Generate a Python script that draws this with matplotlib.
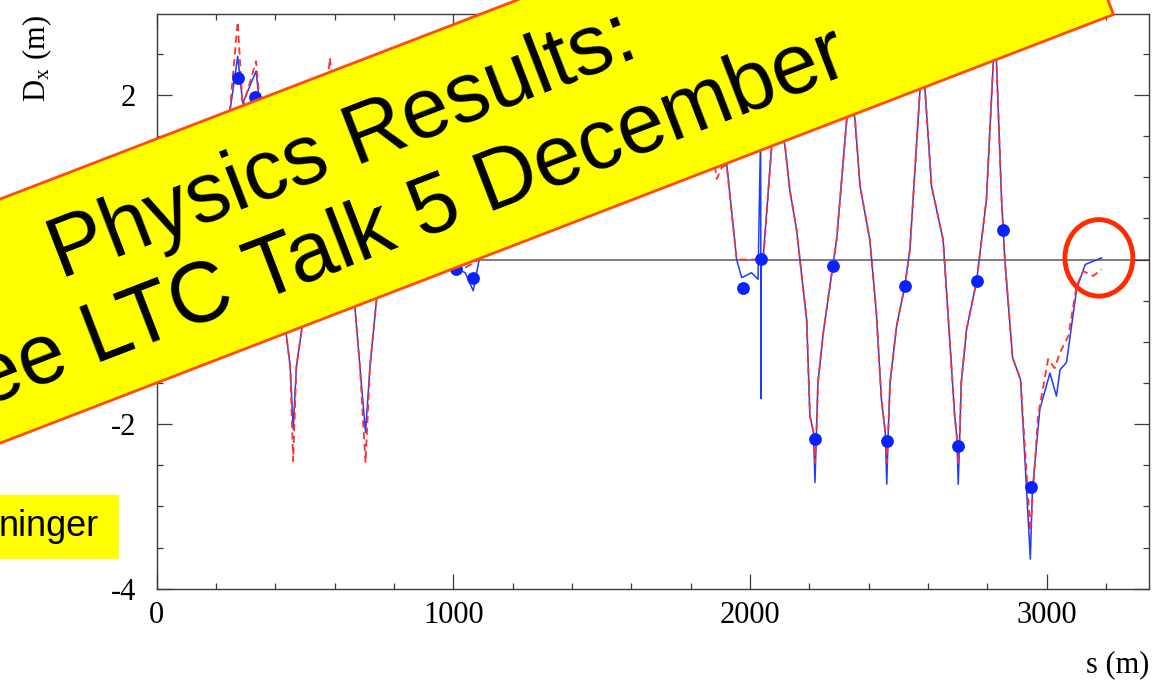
import numpy as np
import matplotlib
matplotlib.use("Agg")
import matplotlib.pyplot as plt
from matplotlib.patches import Polygon, Rectangle, Ellipse
from matplotlib.ticker import MultipleLocator, FixedLocator

plt.rcParams["mathtext.fontset"] = "stix"

W, H = 1157, 692

# measured dispersion (blue, solid)
meas_s = [0, 150, 245, 273, 290, 335, 355, 400, 432, 450, 460, 471, 489, 530, 584,
          630, 668, 685, 704, 719, 741, 790, 830, 900, 960, 990, 1009, 1040, 1067,
          1087, 1100, 1200, 1350, 1500, 1650, 1800, 1870, 1921, 1955, 1972, 2005,
          2027, 2036, 2037, 2038, 2045, 2073, 2094, 2118, 2134, 2157, 2191, 2202,
          2214, 2219, 2224, 2229, 2247, 2279, 2292, 2326, 2340, 2354, 2371, 2404,
          2426, 2443, 2456, 2461, 2466, 2472, 2494, 2522, 2539, 2573, 2585, 2590,
          2612, 2651, 2668, 2690, 2697, 2702, 2707, 2712, 2730, 2764, 2797, 2820,
          2826, 2831, 2848, 2859, 2885, 2912, 2945, 2952, 2977, 3011, 3033, 3045,
          3067, 3101, 3130, 3185]
meas_dx = [0.0, 0.3, 1.75, 2.47, 1.90, 2.29, 1.60, 0.60, -0.77, -1.30, -2.06, -1.30,
           -0.85, 0.50, 2.15, 0.60, -0.57, -1.30, -2.10, -1.30, -0.49, 1.20, 2.20,
           1.00, 0.20, 0.00, -0.11, -0.16, -0.38, 0.00, 0.50, 1.20, 1.60, 1.50, 1.70,
           1.60, 1.45, 1.18, 0.00, -0.22, -0.16, -0.24, 1.60, -1.69, 0.00, 0.05, 1.38,
           1.70, 1.38, 0.85, 0.36, -0.73, -1.90, -2.10, -2.71, -2.10, -1.50, -0.89,
           -0.08, 0.24, 1.70, 2.00, 1.70, 0.89, 0.24, -0.65, -1.70, -2.10, -2.73,
           -2.10, -1.50, -0.81, -0.32, 0.12, 2.06, 2.30, 2.06, 0.89, 0.24, -0.69,
           -1.90, -2.15, -2.73, -2.15, -1.50, -0.85, -0.26, 0.73, 2.39, 2.60, 2.39,
           0.73, 0.00, -1.19, -1.46, -3.64, -2.80, -1.82, -1.38, -1.66, -1.34, -1.25,
           -0.36, -0.06, 0.02]

# model dispersion (red, dashed)
model_s = [0, 150, 245, 273, 290, 335, 355, 400, 432, 450, 460, 471, 489, 530, 584,
           630, 668, 685, 704, 719, 741, 790, 830, 900, 960, 990, 1040, 1087, 1100,
           1200, 1350, 1500, 1650, 1800, 1870, 1888, 1905, 1921, 1955, 2045, 2073,
           2094, 2118, 2134, 2157, 2191, 2202, 2214, 2219, 2224, 2229, 2247, 2279,
           2292, 2326, 2340, 2354, 2371, 2404, 2426, 2443, 2456, 2461, 2466, 2472,
           2494, 2522, 2539, 2573, 2585, 2590, 2612, 2651, 2668, 2690, 2697, 2702,
           2707, 2712, 2730, 2764, 2797, 2820, 2826, 2831, 2848, 2859, 2885, 2912,
           2945, 2971, 3005, 3027, 3045, 3073, 3101, 3123, 3157, 3185]
model_dx = [0.0, 0.3, 1.75, 2.89, 1.85, 2.41, 1.60, 0.60, -0.77, -1.30, -2.45, -1.30,
            -0.85, 0.50, 2.45, 0.60, -0.57, -1.30, -2.47, -1.30, -0.49, 1.20, 2.20,
            1.00, 0.20, 0.00, -0.10, 0.00, 0.50, 1.20, 1.60, 1.50, 1.70, 1.60, 1.40,
            0.98, 1.12, 1.15, 0.00, 0.00, 1.38, 1.75, 1.38, 0.85, 0.36, -0.73, -1.90,
            -2.10, -2.47, -2.10, -1.50, -0.89, -0.08, 0.24, 1.70, 2.00, 1.70, 0.89,
            0.24, -0.65, -1.70, -2.10, -2.47, -2.10, -1.50, -0.81, -0.32, 0.12, 2.06,
            2.30, 2.06, 0.89, 0.24, -0.69, -1.90, -2.15, -2.47, -2.15, -1.50, -0.85,
            -0.26, 0.73, 2.39, 2.60, 2.39, 0.73, 0.00, -1.19, -1.46, -3.30, -1.90,
            -1.21, -1.32, -1.13, -0.93, -0.32, -0.14, -0.20, -0.12]

# BPM readings (blue dots)
bpm_s = [273, 331, 1009, 1067, 1977, 2037, 2219, 2279, 2461, 2522, 2702, 2764, 2853, 2947]
bpm_dx = [2.20, 1.98, -0.11, -0.22, -0.34, 0.01, -2.18, -0.08, -2.21, -0.32, -2.26,
          -0.26, 0.36, -2.77]

x_ticks = [0, 1000, 2000, 3000]
y_ticks = [-4, -2, 0, 2]
y_ticklabels = ["-4", "-2", "0", "2"]

fig = plt.figure(figsize=(W / 100, H / 100), dpi=100)
ax = fig.add_axes([156.7 / W, 1 - 588.7 / H, 992.6 / W, 574.4 / H])

ax.axhline(0, color="#5a5a5a", lw=1.1, zorder=1)
ax.plot(model_s, model_dx, color="#ff3030", lw=1.3, ls=(0, (4, 2.5)), zorder=3)
ax.plot(meas_s, meas_dx, color="#1a3cff", lw=1.1, zorder=2)
ax.plot(bpm_s, bpm_dx, "o", color="#0a22ff", ms=9.2, mec="none", zorder=4)

ax.set_xlim(0, 3346)
ax.set_ylim(-4, 2.98)
ax.xaxis.set_major_locator(FixedLocator(x_ticks))
ax.xaxis.set_minor_locator(MultipleLocator(200))
ax.yaxis.set_major_locator(FixedLocator(y_ticks))
ax.yaxis.set_minor_locator(MultipleLocator(0.5))
ax.set_yticklabels(y_ticklabels)

for sp in ax.spines.values():
    sp.set_color("#3a3a3a")
    sp.set_linewidth(1.0)
ax.tick_params(which="both", direction="in", top=True, right=True, color="#3a3a3a",
               width=0.9, labelsize=22)
ax.tick_params(which="major", length=10.8)
ax.tick_params(which="minor", length=4.3)
ax.tick_params(axis="x", pad=9)
ax.tick_params(axis="y", pad=15)
for lab in ax.get_xticklabels() + ax.get_yticklabels():
    lab.set_family("Liberation Serif")

# highlight at the end of the line
ax.add_patch(Ellipse((3176, 0.02), 229, 0.93, fill=False, ec="#ff2a00", lw=3.5,
                     zorder=5, clip_on=False))

fig.text(37 / W, 1 - 59 / H, r"D$_{\mathregular{x}}$ (m)", rotation=90, ha="center",
         va="center", fontsize=22, family="Liberation Serif")
fig.text(1149 / W, 1 - 665 / H, "s (m)", ha="right", va="center", fontsize=22,
         family="Liberation Serif")


def px(x, y):
    return (x / W, 1 - y / H)


# yellow banner across the plot
corners = [(1113.5, 14.5), (1031.5, -198), (-275, 305), (-193, 517.5)]
fig.add_artist(Polygon([px(*c) for c in corners], closed=True, fc="#ffff00",
                       ec="#ff4a10", lw=2, transform=fig.transFigure, zorder=10))
ang = np.degrees(np.arctan(0.385))
fig.text(*px(351, 167), "Physics Results:", rotation=ang, rotation_mode="anchor",
         ha="center", va="baseline", fontsize=61, family="Liberation Sans", zorder=11)
fig.text(*px(392, 250), "See LTC Talk 5 December", rotation=ang,
         rotation_mode="anchor", ha="center", va="baseline", fontsize=61,
         family="Liberation Sans", zorder=11)

# author box, lower left
fig.add_artist(Rectangle(px(-10, 559.3), 129 / W, 64.3 / H, fc="#ffff00", ec="none",
                         transform=fig.transFigure, zorder=10))
fig.text(*px(99, 527), "ninger", ha="right", va="center", fontsize=26,
         family="Liberation Sans", zorder=11)

fig.savefig("out.png", dpi=100)
